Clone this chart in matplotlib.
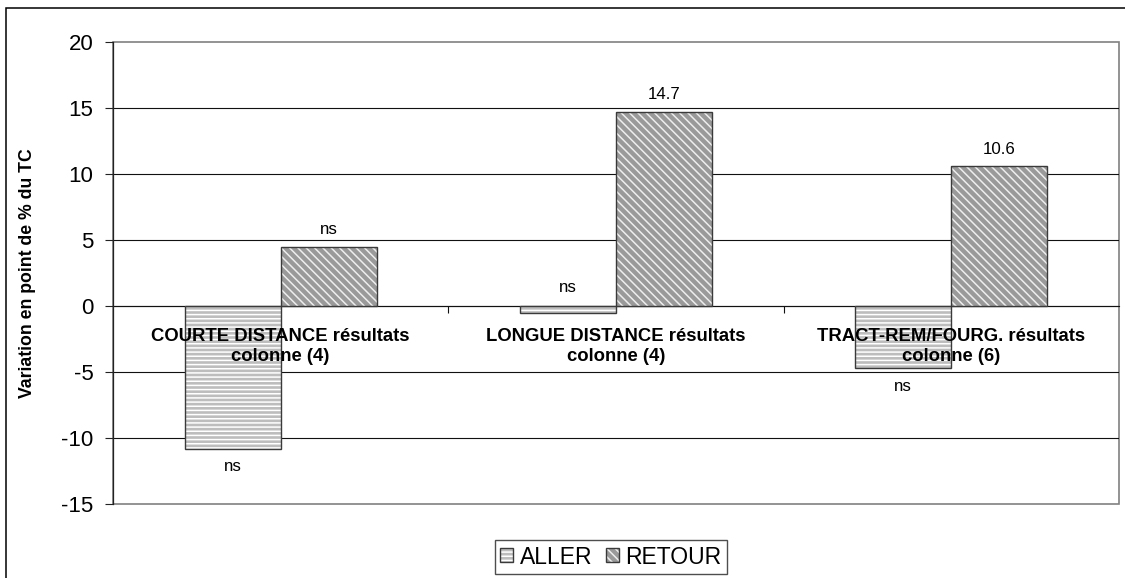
import matplotlib
matplotlib.use("Agg")
import matplotlib.pyplot as plt
from matplotlib.patches import Rectangle, Patch
from matplotlib.legend_handler import HandlerTuple
import numpy as np

# Data
categories = ["COURTE DISTANCE résultats\ncolonne (4)",
              "LONGUE DISTANCE résultats\ncolonne (4)",
              "TRACT-REM/FOURG. résultats\ncolonne (6)"]
series_names = ["ALLER", "RETOUR"]
aller = [-10.8, -0.5, -4.7]
retour = [4.5, 14.7, 10.6]
aller_labels = ["ns", "ns", "ns"]
retour_labels = ["ns", "14.7", "10.6"]
yticks = [-15, -10, -5, 0, 5, 10, 15, 20]

plt.rcParams['font.family'] = ['Liberation Sans', 'DejaVu Sans']
plt.rcParams['hatch.linewidth'] = 1.1

W, H = 1125, 578
fig = plt.figure(figsize=(W / 100, H / 100), dpi=100)
ax = fig.add_axes([113 / W, 1 - 504 / H, (1119 - 113) / W, (504 - 42) / H])

x = np.arange(len(categories))
bw = 0.2863

aller_face, aller_hatch = '#bdbdbd', '#ffffff'
retour_face, retour_hatch = '#9a9a9a', '#eeeeee'
edge = '#3a3a3a'

# Filled, hatched bars (hatch colour comes from the edge colour)
ax.bar(x - bw / 2, aller, bw, color=aller_face, edgecolor=aller_hatch,
       hatch='----', linewidth=0, zorder=3)
ax.bar(x + bw / 2, retour, bw, color=retour_face, edgecolor=retour_hatch,
       hatch='\\\\\\\\', linewidth=0, zorder=3)
# Outlines
ax.bar(x - bw / 2, aller, bw, fill=False, edgecolor=edge, linewidth=1.0, zorder=4)
ax.bar(x + bw / 2, retour, bw, fill=False, edgecolor=edge, linewidth=1.0, zorder=4)

# Value labels
for i in range(len(categories)):
    if aller[i] < -1:
        ax.annotate(aller_labels[i], (x[i] - bw / 2, aller[i]), xytext=(0, -16.5),
                    textcoords='offset points', ha='center', va='baseline',
                    fontsize=12.2, zorder=5)
    else:
        ax.annotate(aller_labels[i], (x[i] - bw / 2, 0), xytext=(0, 10),
                    textcoords='offset points', ha='center', va='baseline',
                    fontsize=12.2, zorder=5)
    ax.annotate(retour_labels[i], (x[i] + bw / 2, retour[i]), xytext=(0, 9),
                textcoords='offset points', ha='center', va='baseline',
                fontsize=12.2, zorder=5)

ax.set_xlim(-0.5, 2.5)
ax.set_ylim(-15, 20)
ax.set_yticks(yticks)
ax.set_yticklabels([str(v) for v in yticks], fontsize=16)
ax.tick_params(axis='y', length=6, width=0.8, pad=8, color='#222222')

# Horizontal gridlines
for v in yticks:
    if -15 < v < 20:
        ax.axhline(v, color='#111111', linewidth=0.8, zorder=1)

# Category axis sits at zero
ax.spines['bottom'].set_position(('data', 0))
ax.spines['bottom'].set_color('#111111')
ax.spines['bottom'].set_linewidth(0.8)
ax.spines['bottom'].set_zorder(2)
ax.set_xticks(x)
ax.set_xticklabels([])
ax.set_xticks([0.5, 1.5], minor=True)
ax.tick_params(axis='x', which='major', length=0)
ax.tick_params(axis='x', which='minor', length=5, width=0.8, color='#111111')

# Category names, drawn over the bars
for i, name in enumerate(categories):
    ax.annotate(name, (x[i], 0), xytext=(0, -16), textcoords='offset points',
                ha='center', va='top', fontsize=13.3, fontweight='bold',
                linespacing=1.25, zorder=6)

ax.spines['left'].set_color('#222222')
ax.spines['left'].set_linewidth(0.9)
ax.spines['top'].set_visible(False)
ax.spines['right'].set_visible(False)

# Plot area border (top, right, bottom)
border = Rectangle((0, 0), 1, 1, transform=ax.transAxes, fill=False,
                   edgecolor='#808080', linewidth=1.2, zorder=0.5, clip_on=False)
ax.add_patch(border)

ax.set_ylabel("Variation en point de % du TC", fontsize=12.7, fontweight='bold')
ax.yaxis.set_label_coords(-0.077, 0.5)

# Legend
h_aller = (Patch(facecolor=aller_face, edgecolor=aller_hatch, hatch='----', linewidth=0),
           Patch(fill=False, edgecolor=edge, linewidth=1.0))
h_retour = (Patch(facecolor=retour_face, edgecolor=retour_hatch, hatch='\\\\\\\\', linewidth=0),
            Patch(fill=False, edgecolor=edge, linewidth=1.0))
leg = fig.legend([h_aller, h_retour], series_names,
                 handler_map={tuple: HandlerTuple(ndivide=1, pad=0)},
                 loc='center', bbox_to_anchor=(611 / W, 1 - 557 / H),
                 ncol=2, fontsize=16.5, frameon=True, fancybox=False,
                 edgecolor='#222222', borderpad=0.25, handlelength=0.55,
                 handleheight=0.55, handletextpad=0.3, columnspacing=0.6,
                 borderaxespad=0)
leg.get_frame().set_linewidth(1.0)

# Outer chart frame
fig.patches.append(Rectangle((6 / W, -0.05), 1.2, 1 - 8 / H + 0.05,
                             transform=fig.transFigure, fill=False,
                             edgecolor='#000000', linewidth=1.1))

fig.savefig("out.png", dpi=100, facecolor='white')
